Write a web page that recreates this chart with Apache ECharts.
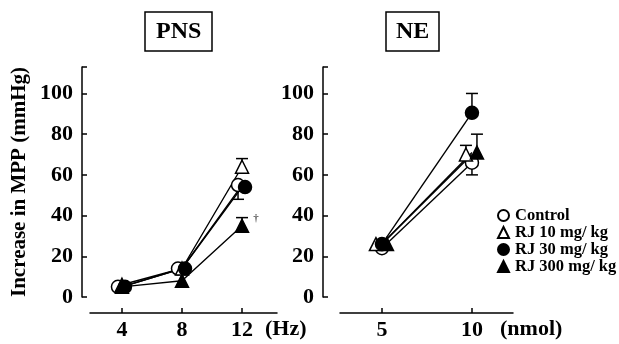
<!DOCTYPE html>
<html><head><meta charset="utf-8">
<script src="https://cdn.jsdelivr.net/npm/echarts@6/dist/echarts.min.js"></script>
<style>html,body{margin:0;padding:0;background:#fff}#c{width:619px;height:344px}</style>
</head><body><div id="c"></div>
<script>
// ---- data ----
const seriesNames = ['Control', 'RJ 10 mg/ kg', 'RJ 30 mg/ kg', 'RJ 300 mg/ kg'];
const pnsX = [4, 8, 12];
const pnsControl = [5, 14, 55];
const pnsRJ10 = [6, 14, 64];
const pnsRJ30 = [5, 14, 54];
const pnsRJ300 = [5, 8, 35];
const pnsControlErr = [0, 0, -7];
const pnsRJ10Err = [0, 0, 4];
const pnsRJ30Err = [0, 0, 0];
const pnsRJ300Err = [0, 0, 4];
const neX = [5, 10];
const neControl = [24, 66];
const neRJ10 = [26, 70];
const neRJ30 = [26, 90.5];
const neRJ300 = [26, 71];
const neControlErr = [0, -6];
const neRJ10Err = [0, 4.5];
const neRJ30Err = [0, 9.5];
const neRJ300Err = [0, 9];
const yTicks = [0, 20, 40, 60, 80, 100];
const pnsTickLabels = ['4', '8', '12'];
const neTickLabels = ['5', '10'];
const panelTitles = ['PNS', 'NE'];
const xUnits = ['(Hz)', '(nmol)'];

const FONT = '"Liberation Serif", "Times New Roman", serif';
const styles = [
  {symbol: 'circle', fill: '#fff'},
  {symbol: 'triangle', fill: '#fff'},
  {symbol: 'circle', fill: '#000'},
  {symbol: 'triangle', fill: '#000'}
];
const pnsSets = [pnsControl, pnsRJ10, pnsRJ30, pnsRJ300];
const pnsErrs = [pnsControlErr, pnsRJ10Err, pnsRJ30Err, pnsRJ300Err];
const neSets = [neControl, neRJ10, neRJ30, neRJ300];
const neErrs = [neControlErr, neRJ10Err, neRJ30Err, neRJ300Err];
const pnsOffsets = [-4, 0, 3, 0];
const neOffsets = [0, -6, 0, 5];

function errSeries(idx, xs, vals, errs, name, off) {
  const data = [];
  xs.forEach((x, i) => { if (errs[i]) data.push([x, vals[i], errs[i]]); });
  return {
    type: 'custom', xAxisIndex: idx, yAxisIndex: idx, z: 1, silent: true,
    data: data,
    renderItem: function (params, api) {
      const p0 = api.coord([api.value(0), api.value(1)]);
      const p1 = api.coord([api.value(0), api.value(1) + api.value(2)]);
      const x = p0[0] + off;
      return {type: 'group', children: [
        {type: 'line', shape: {x1: x, y1: p0[1], x2: x, y2: p1[1]}, style: {stroke: '#000', lineWidth: 1.5}},
        {type: 'line', shape: {x1: x - 6, y1: p1[1], x2: x + 6, y2: p1[1]}, style: {stroke: '#000', lineWidth: 1.5}}
      ]};
    }
  };
}

const series = [];
[[pnsX, pnsSets, pnsErrs, pnsOffsets], [neX, neSets, neErrs, neOffsets]].forEach((panel, idx) => {
  const [xs, sets, errs, offs] = panel;
  sets.forEach((vals, k) => {
    series.push(errSeries(idx, xs, vals, errs[k], seriesNames[k], offs[k]));
  });
  sets.forEach((vals, k) => {
    const data = xs.map((x, i) => [x, vals[i]]);
    if (idx === 0 && k === 3) {
      data[2] = {value: data[2], label: {show: true, formatter: '†', position: 'right', distance: 4, offset: [0, -8], fontSize: 11, fontFamily: FONT, color: '#000'}};
    }
    series.push({
      type: 'line', name: seriesNames[k], xAxisIndex: idx, yAxisIndex: idx, z: 3,
      data: data, symbol: styles[k].symbol, symbolSize: 13, showAllSymbol: true,
      symbolOffset: [offs[k], 0],
      itemStyle: {color: styles[k].fill, borderColor: '#000', borderWidth: 1.5, opacity: 1},
      lineStyle: {color: '#000', width: 1.4},
      emphasis: {disabled: true}, animation: false
    });
  });
});

function xAxis(idx, min, max, vals, labels) {
  return {
    type: 'value', gridIndex: idx, min: min, max: max, offset: 16,
    splitLine: {show: false},
    axisLine: {show: true, onZero: false, lineStyle: {color: '#000', width: 1.5}},
    axisTick: {show: true, inside: true, length: 5, customValues: vals, lineStyle: {color: '#000', width: 1.5}},
    axisLabel: {show: true, customValues: vals, formatter: v => labels[vals.indexOf(v)], margin: 6,
      color: '#000', fontSize: 22, fontWeight: 'bold', fontFamily: FONT}
  };
}
function yAxis(idx, offset, name) {
  return {
    type: 'value', gridIndex: idx, min: 0, max: 113, interval: 20, offset: offset,
    name: name, nameLocation: 'middle', nameGap: 52,
    nameTextStyle: {color: '#000', fontSize: 21, fontWeight: 'bold', fontFamily: FONT},
    splitLine: {show: false},
    axisLine: {show: true, lineStyle: {color: '#000', width: 1.5}},
    axisTick: {show: true, inside: true, length: 5, lineStyle: {color: '#000', width: 1.5}},
    axisLabel: {show: true, margin: 9, color: '#000', fontSize: 22, fontWeight: 'bold', fontFamily: FONT,
      formatter: v => (yTicks.indexOf(v) >= 0 ? String(v) : '')}
  };
}

const option = {
  backgroundColor: '#fff',
  animation: false,
  title: [
    {text: panelTitles[0], left: 145, top: 12, padding: [8, 11, 7, 11], borderColor: '#000', borderWidth: 1.5,
      textStyle: {color: '#000', fontSize: 24, fontWeight: 'bold', fontFamily: FONT}},
    {text: panelTitles[1], left: 386, top: 12, padding: [8, 10, 7, 10], borderColor: '#000', borderWidth: 1.5,
      textStyle: {color: '#000', fontSize: 24, fontWeight: 'bold', fontFamily: FONT}}
  ],
  grid: [
    {left: 90, width: 187, top: 67, height: 230},
    {left: 340, width: 173, top: 67, height: 230}
  ],
  xAxis: [xAxis(0, 1.87, 14.33, pnsX, pnsTickLabels), xAxis(1, 2.67, 12.28, neX, neTickLabels)],
  yAxis: [yAxis(0, 8, 'Increase in MPP (mmHg)'), yAxis(1, 17, '')],
  legend: {
    orient: 'vertical', left: 492, top: 202, itemWidth: 11, itemHeight: 11, itemGap: 0,
    selectedMode: false,
    data: seriesNames.map((n, k) => ({name: n, icon: styles[k].symbol})),
    textStyle: {color: '#000', fontSize: 16.5, fontWeight: 'bold', fontFamily: FONT, lineHeight: 15, padding: [0, 0, 0, 1]}
  },
  graphic: [
    {type: 'text', left: 265, top: 318, style: {text: xUnits[0], fill: '#000', font: 'bold 22px ' + FONT}},
    {type: 'text', left: 500, top: 318, style: {text: xUnits[1], fill: '#000', font: 'bold 22px ' + FONT}}
  ],
  series: series
};
echarts.init(document.getElementById('c'), null, {renderer: 'canvas'}).setOption(option);
</script></body></html>
